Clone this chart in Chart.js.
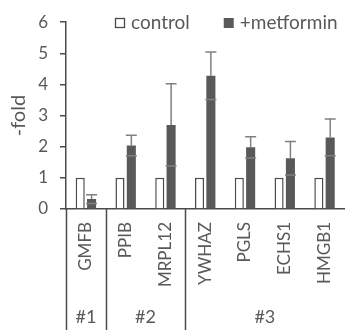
<!DOCTYPE html>
<html>
<head>
<meta charset="utf-8">
<script src="https://cdn.jsdelivr.net/npm/chart.js@4.4.0/dist/chart.umd.min.js"></script>
<style>
  html, body { margin: 0; padding: 0; background: #fff; }
  #wrap { width: 358px; height: 330px; position: relative; }
</style>
</head>
<body>
<div id="wrap"><canvas id="chart_fold"></canvas></div>
<script>
// data
var genes = ['GMFB', 'PPIB', 'MRPL12', 'YWHAZ', 'PGLS', 'ECHS1', 'HMGB1'];
var groupNames = ['#1', '#2', '#3'];
var groupSizes = [1, 2, 4];
var control = [1, 1, 1, 1, 1, 1, 1];
var metformin = [0.32, 2.04, 2.70, 4.28, 1.98, 1.63, 2.30];
var metforminErr = [0.14, 0.33, 1.32, 0.76, 0.34, 0.54, 0.59];
var legendNames = ['control', '+metformin'];

var textGray = '#595959';
var lineGray = '#4a4a4a';
var fontName = 'Lato, "Open Sans", sans-serif';

// error bars on the metformin series
var errorBars = {
    id: 'errorBars',
    afterDatasetsDraw: function (chart) {
        var ctx = chart.ctx, y = chart.scales.y;
        var meta = chart.getDatasetMeta(1);
        ctx.save();
        ctx.strokeStyle = '#808080';
        ctx.lineWidth = 1.5;
        meta.data.forEach(function (bar, i) {
            var v = metformin[i], e = metforminErr[i];
            var top = y.getPixelForValue(v + e);
            var mid = y.getPixelForValue(v);
            var low = y.getPixelForValue(v - e);
            var half = 5.5;
            ctx.beginPath();
            ctx.moveTo(bar.x, mid); ctx.lineTo(bar.x, top);
            ctx.moveTo(bar.x - half, top); ctx.lineTo(bar.x + half, top);
            ctx.moveTo(bar.x - half, low); ctx.lineTo(bar.x + half, low);
            ctx.stroke();
        });
        ctx.restore();
    }
};

// group separators and #1 #2 #3 under the gene names
var groupAxis = {
    id: 'groupAxis',
    afterDraw: function (chart) {
        var ctx = chart.ctx, x = chart.scales.x, area = chart.chartArea;
        var step = x.getPixelForValue(1) - x.getPixelForValue(0);
        var start = 0;
        ctx.save();
        ctx.strokeStyle = lineGray;
        ctx.lineWidth = 1.5;
        ctx.fillStyle = textGray;
        ctx.font = '18px ' + fontName;
        ctx.textAlign = 'center';
        ctx.textBaseline = 'middle';
        groupSizes.forEach(function (n, g) {
            var left = x.getPixelForValue(start) - step / 2;
            var right = x.getPixelForValue(start + n - 1) + step / 2;
            ctx.beginPath();
            ctx.moveTo(Math.round(left) + 0.5, area.bottom);
            ctx.lineTo(Math.round(left) + 0.5, chart.height);
            ctx.stroke();
            ctx.fillText(groupNames[g], (left + right) / 2, 317);
            start += n;
        });
        ctx.restore();
    }
};

// legend inside the plot, top
var boxLegend = {
    id: 'boxLegend',
    afterDraw: function (chart) {
        var ctx = chart.ctx, area = chart.chartArea;
        var x = area.left + 49, y = 23, box = 10;
        ctx.save();
        ctx.font = '19px ' + fontName;
        ctx.textBaseline = 'middle';
        ctx.textAlign = 'left';
        legendNames.forEach(function (name, i) {
            if (i === 0) {
                ctx.fillStyle = '#fff';
                ctx.fillRect(x, y - box / 2, box, box);
                ctx.strokeStyle = lineGray;
                ctx.lineWidth = 1.3;
                ctx.strokeRect(x + 0.5, y - box / 2 + 0.5, box - 1, box - 1);
            } else {
                ctx.fillStyle = '#595959';
                ctx.fillRect(x, y - box / 2, box, box);
            }
            ctx.fillStyle = textGray;
            ctx.fillText(name, x + box + 6, y);
            x += box + 6 + ctx.measureText(name).width + 34;
        });
        ctx.restore();
    }
};

var ctx1 = document.getElementById('chart_fold').getContext('2d');
var chart = new Chart(ctx1, {
    type: 'bar',
    data: {
        labels: genes,
        datasets: [{
            label: legendNames[0],
            data: control,
            backgroundColor: '#ffffff',
            borderColor: lineGray,
            borderWidth: 1.5,
            categoryPercentage: 0.57,
            barPercentage: 0.8
        }, {
            label: legendNames[1],
            data: metformin,
            backgroundColor: '#595959',
            borderWidth: 0,
            categoryPercentage: 0.57,
            barPercentage: 0.8
        }]
    },
    options: {
        responsive: true,
        maintainAspectRatio: false,
        animation: false,
        layout: { padding: { top: 15, right: 1, left: 0, bottom: 0 } },
        plugins: {
            legend: { display: false },
            tooltip: { enabled: false }
        },
        scales: {
            x: {
                grid: { display: false, drawTicks: false },
                border: { color: lineGray, width: 1.5 },
                ticks: {
                    color: textGray,
                    font: { family: fontName, size: 17 },
                    minRotation: 90,
                    maxRotation: 90,
                    padding: 13,
                    autoSkip: false
                },
                afterFit: function (scale) { scale.height = 121; }
            },
            y: {
                min: 0,
                max: 6,
                ticks: {
                    stepSize: 1,
                    color: textGray,
                    font: { family: fontName, size: 17 },
                    padding: 12
                },
                grid: { drawOnChartArea: false, drawTicks: true, tickLength: 6, color: lineGray, lineWidth: 1.5 },
                border: { color: lineGray, width: 1.5 },
                title: {
                    display: true,
                    text: '-fold',
                    color: textGray,
                    font: { family: fontName, size: 20 },
                    padding: { top: 7, bottom: 0 }
                },
                afterFit: function (scale) { scale.width = 66; }
            }
        }
    },
    plugins: [errorBars, groupAxis, boxLegend]
});
</script>
</body>
</html>
